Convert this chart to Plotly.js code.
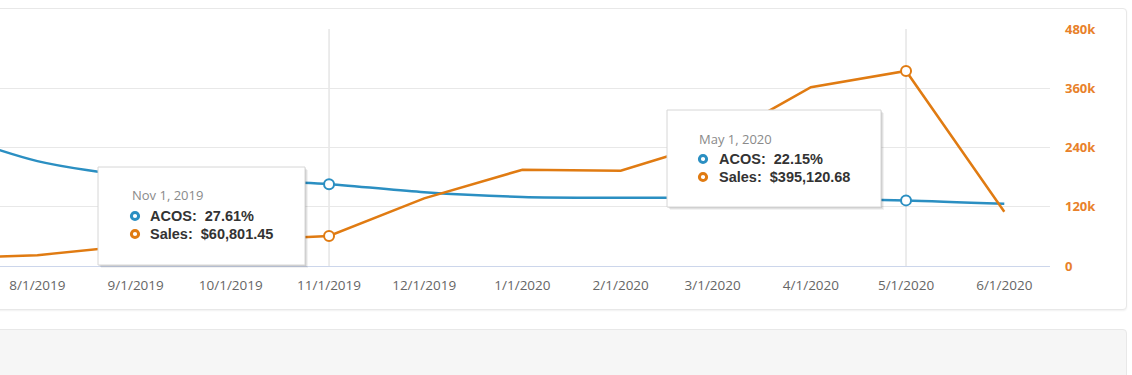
<!DOCTYPE html>
<html>
<head>
<meta charset="utf-8">
<script src="https://cdn.plot.ly/plotly-3.0.1.min.js"></script>
<style>
  html, body { margin: 0; padding: 0; background: #ffffff; width: 1132px; height: 375px; overflow: hidden; }
  #card { position: absolute; left: -10px; top: 8px; width: 1135px; height: 300px; border: 1px solid #e8e8e8; border-radius: 4px; box-shadow: 0 1px 2px rgba(0,0,0,0.06); background: #fff; }
  #panel { position: absolute; left: -10px; top: 329px; width: 1135px; height: 60px; border: 1px solid #e8e8e8; border-radius: 4px; background: #f6f6f6; }
  #chart { position: absolute; left: 0; top: 0; width: 1132px; height: 375px; }
</style>
</head>
<body>
<div id="card"></div>
<div id="panel"></div>
<div id="chart"></div>
<script>
// ---- data ----
var months = ['2019-07-01','2019-08-01','2019-09-01','2019-10-01','2019-11-01','2019-12-01',
              '2020-01-01','2020-02-01','2020-03-01','2020-04-01','2020-05-01','2020-06-01'];
var acos   = [46.0, 35.4, 30.3, 29.0, 27.61, 24.9, 23.3, 23.0, 23.0, 22.6, 22.15, 21.0];
var sales  = [15000, 22000, 42000, 52000, 60801.45, 137000, 195000, 193000, 250000, 362000, 395120.68, 110000];
var tickMonths = ['2019-08-01','2019-09-01','2019-10-01','2019-11-01','2019-12-01','2020-01-01',
                  '2020-02-01','2020-03-01','2020-04-01','2020-05-01','2020-06-01'];
var tickLabels = ['8/1/2019','9/1/2019','10/1/2019','11/1/2019','12/1/2019','1/1/2020',
                  '2/1/2020','3/1/2020','4/1/2020','5/1/2020','6/1/2020'];
var salesTicks = [0, 120000, 240000, 360000, 480000];
var salesTickLabels = ['0', '120k', '240k', '360k', '480k'];
var hoverIdx = [4, 10];   // highlighted points (tooltips)

var BLUE = '#2b8fc2', ORANGE = '#e07b12';

// ---- geometry helpers (pixel -> paper) ----
var ML = 0, MT = 29, PW = 1050, PH = 237;
function px(x) { return (x - ML) / PW; }
function py(y) { return (MT + PH - y) / PH; }

var monNames = ['Jan','Feb','Mar','Apr','May','Jun','Jul','Aug','Sep','Oct','Nov','Dec'];
function fmtDate(s) {
  var p = s.split('-');
  return monNames[parseInt(p[1],10)-1] + ' ' + parseInt(p[2],10) + ', ' + p[0];
}
function fmtMoney(v) {
  return '$' + v.toLocaleString('en-US', {minimumFractionDigits: 2, maximumFractionDigits: 2});
}

var traces = [
  { x: months, y: acos, type: 'scatter', mode: 'lines', name: 'ACOS', yaxis: 'y',
    line: { color: BLUE, width: 2.5, shape: 'spline', smoothing: 0.8 }, hoverinfo: 'skip' },
  { x: months, y: sales, type: 'scatter', mode: 'lines', name: 'Sales', yaxis: 'y2',
    line: { color: ORANGE, width: 2.5 }, hoverinfo: 'skip' },
  { x: hoverIdx.map(function(i){return months[i];}), y: hoverIdx.map(function(i){return acos[i];}),
    type: 'scatter', mode: 'markers', yaxis: 'y', hoverinfo: 'skip',
    marker: { symbol: 'circle', size: 10, color: '#ffffff', line: { color: BLUE, width: 2 } } },
  { x: hoverIdx.map(function(i){return months[i];}), y: hoverIdx.map(function(i){return sales[i];}),
    type: 'scatter', mode: 'markers', yaxis: 'y2', hoverinfo: 'skip',
    marker: { symbol: 'circle', size: 10, color: '#ffffff', line: { color: ORANGE, width: 2 } } }
];

var shapes = [];
var annotations = [];

// crosshair lines
hoverIdx.forEach(function(i){
  shapes.push({ type: 'line', xref: 'x', yref: 'paper', x0: months[i], x1: months[i], y0: 0, y1: 1,
                line: { color: '#d8d8d8', width: 1 }, layer: 'below' });
});

// tooltips
var tips = [
  { idx: 4,  box: [98, 167, 305, 265], dateX: 130, dateY: 195, mx: 135, tx: 148, row1: 216, row2: 234 },
  { idx: 10, box: [667, 110, 881, 207], dateX: 697, dateY: 139, mx: 703, tx: 717, row1: 159, row2: 177 }
];
tips.forEach(function(t){
  var b = t.box;
  // soft shadow
  [[3, 0.05], [2, 0.07], [1, 0.09]].forEach(function(s){
    shapes.push({ type: 'rect', xref: 'paper', yref: 'paper', layer: 'above',
      x0: px(b[0] + s[0]), x1: px(b[2] + s[0]), y0: py(b[3] + s[0]), y1: py(b[1] + s[0]),
      fillcolor: 'rgba(0,0,0,' + s[1] + ')', line: { width: 0 } });
  });
  shapes.push({ type: 'rect', xref: 'paper', yref: 'paper', layer: 'above',
    x0: px(b[0]), x1: px(b[2]), y0: py(b[3]), y1: py(b[1]),
    fillcolor: '#ffffff', line: { color: '#d6d6d6', width: 1 } });
  [[t.row1, BLUE], [t.row2, ORANGE]].forEach(function(r){
    shapes.push({ type: 'circle', xref: 'paper', yref: 'paper', layer: 'above',
      xsizemode: 'pixel', ysizemode: 'pixel', xanchor: px(t.mx), yanchor: py(r[0]),
      x0: -3.6, x1: 3.6, y0: -3.6, y1: 3.6,
      fillcolor: '#ffffff', line: { color: r[1], width: 3 } });
  });
  annotations.push({ xref: 'paper', yref: 'paper', x: px(t.dateX), y: py(t.dateY),
    xanchor: 'left', yanchor: 'middle', showarrow: false, text: fmtDate(months[t.idx]),
    font: { family: 'Open Sans, sans-serif', size: 13, color: '#8a8a8a' } });
  annotations.push({ xref: 'paper', yref: 'paper', x: px(t.tx), y: py(t.row1),
    xanchor: 'left', yanchor: 'middle', showarrow: false,
    text: 'ACOS:  ' + acos[t.idx].toFixed(2) + '%',
    font: { family: 'Liberation Sans, Arial, sans-serif', size: 14.5, color: '#333333', weight: 'bold' } });
  annotations.push({ xref: 'paper', yref: 'paper', x: px(t.tx), y: py(t.row2),
    xanchor: 'left', yanchor: 'middle', showarrow: false,
    text: 'Sales:  ' + fmtMoney(sales[t.idx]),
    font: { family: 'Liberation Sans, Arial, sans-serif', size: 14.5, color: '#333333', weight: 'bold' } });
});

var layout = {
  width: 1132, height: 375,
  margin: { l: ML, r: 1132 - ML - PW, t: MT, b: 375 - MT - PH },
  paper_bgcolor: 'rgba(0,0,0,0)', plot_bgcolor: 'rgba(0,0,0,0)',
  showlegend: false,
  xaxis: {
    type: 'date', range: ['2019-07-20 05:00', '2020-06-15 10:00'],
    tickvals: tickMonths, ticktext: tickLabels,
    showgrid: false, zeroline: false, showline: true, linecolor: '#ccd6eb', linewidth: 1,
    ticks: '', ticklabelstandoff: 7,
    tickfont: { family: 'Open Sans, sans-serif', size: 13.5, color: '#666666' }
  },
  yaxis: {
    range: [0, 80], showgrid: false, zeroline: false, showticklabels: false, showline: false, ticks: ''
  },
  yaxis2: {
    overlaying: 'y', side: 'right', range: [0, 480000],
    tickvals: salesTicks, ticktext: salesTickLabels,
    showgrid: true, gridcolor: '#e8e8e8', gridwidth: 1, zeroline: false, showline: false,
    ticks: '', ticklabelstandoff: 14,
    tickfont: { family: 'Open Sans, sans-serif', size: 13, color: '#e8812a', weight: 'bold' }
  },
  shapes: shapes,
  annotations: annotations
};

Plotly.newPlot('chart', traces, layout, { staticPlot: true, displayModeBar: false });
</script>
</body>
</html>
